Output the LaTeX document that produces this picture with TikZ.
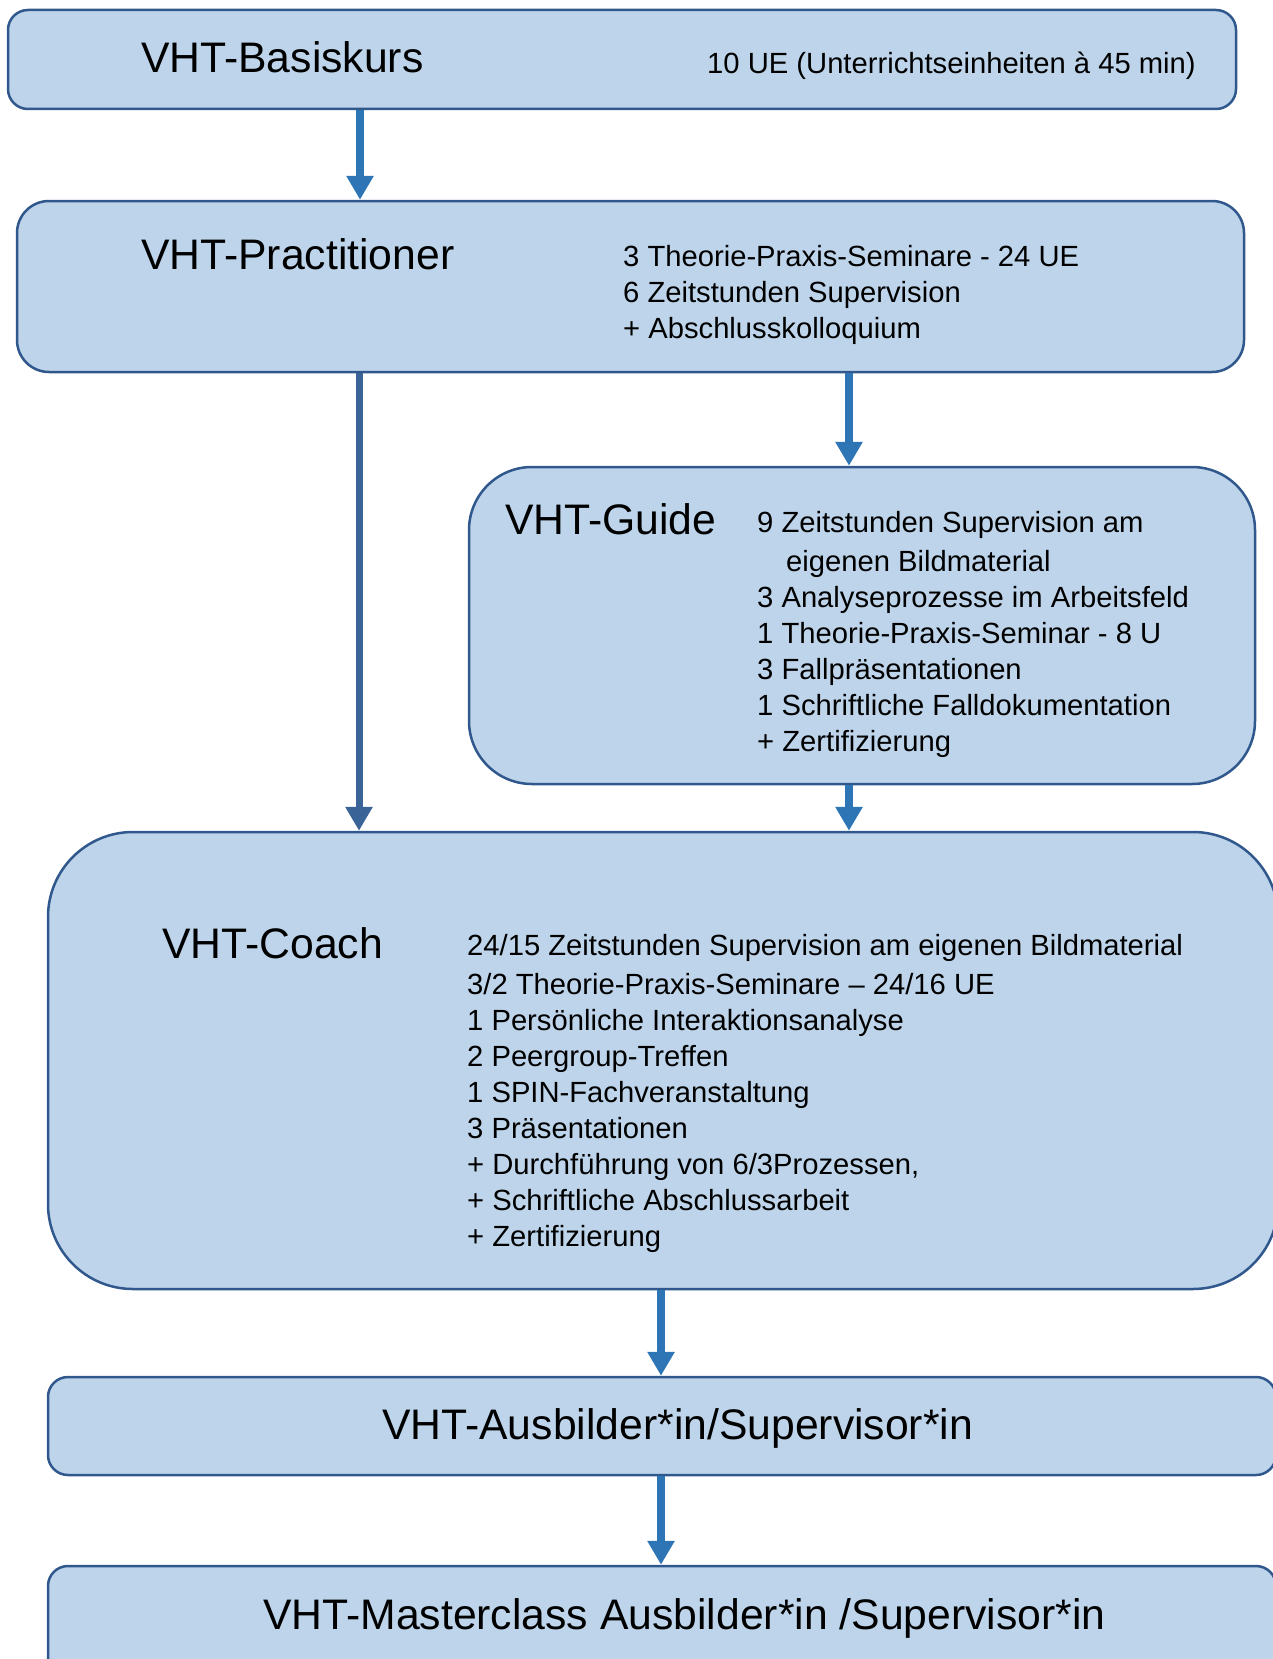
\documentclass[tikz,border=0pt]{standalone}
\usepackage{fontspec}
\setmainfont{Liberation Sans}
\usetikzlibrary{arrows.meta}
\definecolor{boxfill}{HTML}{BDD4EA}
\definecolor{boxline}{HTML}{30588C}
\definecolor{arrblue}{HTML}{2E75B6}
\definecolor{arrdark}{HTML}{3A6397}
\begin{document}
\begin{tikzpicture}[x=1pt,y=-1pt,stage/.style={rectangle, draw=boxline, fill=boxfill, line width=2.5pt, rounded corners=#1, inner sep=0pt},title/.style={anchor=base west, inner sep=0pt, font=\fontsize{42.7}{50}\selectfont},items/.style={anchor=north west, inner sep=0pt, align=left, font=\fontsize{29.2}{36}\selectfont},arr/.style={draw=arrblue, line width=8pt, -{Triangle[width=26pt,length=24pt]}},]
            \useasboundingbox (0,0) rectangle (1273,1659);
            \node[stage=20pt, minimum width=1228pt, minimum height=99pt] (basis) at (622,59.5) {};
            \node[stage=32pt, minimum width=1227pt, minimum height=171pt] (prac) at (630.5,286.5) {};
            \node[stage=63pt, minimum width=786pt, minimum height=317pt] (guide) at (862,625.5) {};
            \node[stage=85pt, minimum width=1230pt, minimum height=457pt] (coach) at (663,1060.5) {};
            \node[stage=20pt, minimum width=1228pt, minimum height=98pt] (ausb) at (662,1426) {};
            \node[stage=20pt, minimum width=1228pt, minimum height=134pt] (master) at (662,1633) {};
            \node[title] (basis_t) at (141,73) {VHT-Basiskurs};
            \node[anchor=base west, inner sep=0pt, font=\fontsize{29.2}{36}\selectfont] (basis_i) at (707,74) {10 UE (Unterrichtseinheiten à 45 min)};
            \node[title] (prac_t) at (141,269) {VHT-Practitioner};
            \node[items] (prac_i) at (623,245) {3 Theorie-Praxis-Seminare - 24 UE\\6 Zeitstunden Supervision\\+ Abschlusskolloquium};
            \node[title] (guide_t) at (505,534) {VHT-Guide};
            \node[items] (guide_i) at (757,511) {9 Zeitstunden Supervision am\\[3pt]\hspace*{29pt}eigenen Bildmaterial\\3 Analyseprozesse im Arbeitsfeld\\1 Theorie-Praxis-Seminar - 8 U\\3 Fallpräsentationen\\1 Schriftliche Falldokumentation\\+ Zertifizierung};
            \node[title] (coach_t) at (162,958) {VHT-Coach};
            \node[items] (coach_i) at (467,934) {24/15 Zeitstunden Supervision am eigenen Bildmaterial\\[3pt]3/2 Theorie-Praxis-Seminare -- 24/16 UE\\1 Persönliche Interaktionsanalyse\\2 Peergroup-Treffen\\1 SPIN-Fachveranstaltung\\3 Präsentationen\\+ Durchführung von 6/3Prozessen,\\+ Schriftliche Abschlussarbeit\\+ Zertifizierung};
            \node[title] (ausb_t) at (382,1439) {VHT-Ausbilder*in/Supervisor*in};
            \node[title] (master_t) at (263,1629) {VHT-Masterclass Ausbilder*in /Supervisor*in};
            \coordinate (c1) at (360,0);
            \coordinate (c2) at (359,0);
            \coordinate (c3) at (849,0);
            \coordinate (c4) at (661,0);
            \draw[arr] (basis.south -| c1) -- (prac.north -| c1);
            \draw[arr, draw=arrdark, line width=7pt] (prac.south -| c2) -- (coach.north -| c2);
            \draw[arr] (prac.south -| c3) -- (guide.north -| c3);
            \draw[arr] (guide.south -| c3) -- (coach.north -| c3);
            \draw[arr] (coach.south -| c4) -- (ausb.north -| c4);
            \draw[arr] (ausb.south -| c4) -- (master.north -| c4);
        \end{tikzpicture}
\end{document}
